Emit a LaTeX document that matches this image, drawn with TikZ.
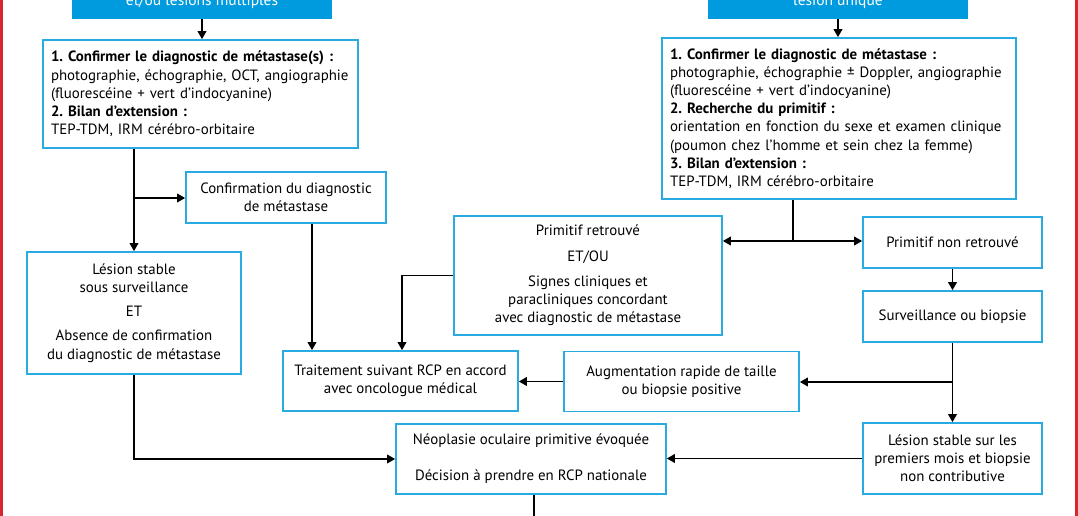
\documentclass[tikz,border=0pt]{standalone}
\usepackage{fontspec}
\setmainfont{PT Sans}
\usetikzlibrary{arrows.meta}
\definecolor{boxblue}{RGB}{41,171,226}
\definecolor{fillblue}{RGB}{0,155,222}
\definecolor{redline}{RGB}{215,38,45}
\frenchspacing
\begin{document}
\begin{tikzpicture}[x=1pt,y=-1pt,
  box/.style={draw=boxblue,line width=1.6pt,fill=white,inner sep=0pt,align=center,
    font=\fontsize{14.9}{18.2}\selectfont},
  titlebox/.style={fill=fillblue,inner xsep=0pt,inner ysep=0pt,text=white,
    minimum width=260pt,text height=31pt,text depth=13pt,
    font=\fontsize{15.5}{18}\selectfont},
  conn/.style={line width=1.8pt,black},
  arr/.style={conn,-{Triangle[length=8pt,width=8.5pt]}},
  darr/.style={conn,{Triangle[length=8pt,width=8.5pt]}-{Triangle[length=8pt,width=8.5pt]}}
]
\useasboundingbox (0,0) rectangle (1078,516);
\clip (0,0) rectangle (1078,516);
\fill[white] (0,0) rectangle (1078,516);
\fill[redline] (0,0) rectangle (3,516);
\fill[redline] (1075,0) rectangle (1078,516);

% title boxes
\node[titlebox] (tl) at (202,-3) {et/ou lésions multiples};
\node[titlebox] (tr) at (838,-3) {lésion unique};

% left column
\node[box,minimum width=315pt,minimum height=108pt,text width=299pt,align=left] (a1) at (200.5,94)
 {\textbf{1. Confirmer le diagnostic de métastase(s) :}\\
  photographie, échographie, OCT, angiographie\\
  (fluorescéine + vert d’indocyanine)\\
  \textbf{2. Bilan d’extension :}\\
  TEP-TDM, IRM cérébro-orbitaire};

\node[box,minimum width=200pt,minimum height=51pt] (c) at (286,197.5)
 {Confirmation du diagnostic\\de métastase};

\node[box,minimum width=214pt,minimum height=122pt] (l) at (134,313)
 {Lésion stable\\sous surveillance\\[6pt]ET\\[6pt]Absence de confirmation\\du diagnostic de métastase};

\node[box,minimum width=235pt,minimum height=60pt] (t) at (400.5,381)
 {Traitement suivant RCP en accord\\avec oncologue médical};

% right column
\node[box,minimum width=354pt,minimum height=161pt,text width=338pt,align=left] (b1) at (839,118.5)
 {\textbf{1. Confirmer le diagnostic de métastase :}\\
  photographie, échographie ± Doppler, angiographie\\
  (fluorescéine + vert d’indocyanine)\\
  \textbf{2. Recherche du primitif :}\\
  orientation en fonction du sexe et examen clinique\\
  (poumon chez l’homme et sein chez la femme)\\
  \textbf{3. Bilan d’extension :}\\
  TEP-TDM, IRM cérébro-orbitaire};

\node[box,minimum width=268pt,minimum height=119pt] (p) at (588,275.5)
 {Primitif retrouvé\\[7pt]ET/OU\\[7pt]Signes cliniques et\\paracliniques concordant\\avec diagnostic de métastase};

\node[box,minimum width=179pt,minimum height=51pt] (pnr) at (952.5,242.5) {Primitif non retrouvé};
\node[box,minimum width=179pt,minimum height=51pt] (s) at (952.5,316.5) {Surveillance ou biopsie};
\node[box,minimum width=235pt,minimum height=60pt] (a) at (681.5,381.5)
 {Augmentation rapide de taille\\ou biopsie positive};
\node[box,minimum width=179pt,minimum height=71pt] (ls) at (952.5,458.5)
 {Lésion stable sur les\\premiers mois et biopsie\\non contributive};
\node[box,minimum width=270pt,minimum height=70pt] (n) at (531,459)
 {Néoplasie oculaire primitive évoquée\\[18pt]Décision à prendre en RCP nationale};

% connectors
\coordinate (jc) at (134,198);
\coordinate (xc) at (312,0);
\coordinate (xp) at (402,0);
\coordinate (jb) at (793,241);
\coordinate (js) at (953,382);
\coordinate (xn) at (534,0);
\coordinate (nend) at (534,530);

\draw[arr] (tl.south) -- (tl.south |- a1.north);
\draw[arr] (tr.south) -- (tr.south |- b1.north);
\draw[arr] (a1.south -| l.north) -- (l.north);
\draw[arr] (jc) -- (jc -| c.west);
\draw[arr] (c.south -| xc) -- (t.north -| xc);
\draw[arr] (p.west) -| (t.north -| xp);
\draw[conn] (b1.south -| jb) -- (jb);
\draw[darr] (jb -| p.east) -- (jb -| pnr.west);
\draw[arr] (pnr.south) -- (s.north);
\draw[arr] (s.south) -- (ls.north);
\draw[arr] (js) -- (js -| a.east);
\draw[arr] (a.west) -- (a.west -| t.east);
\draw[arr] (ls.west) -- (ls.west -| n.east);
\draw[arr] (l.south) |- (n.west);
\draw[conn] (n.south -| xn) -- (nend);
\end{tikzpicture}
\end{document}
